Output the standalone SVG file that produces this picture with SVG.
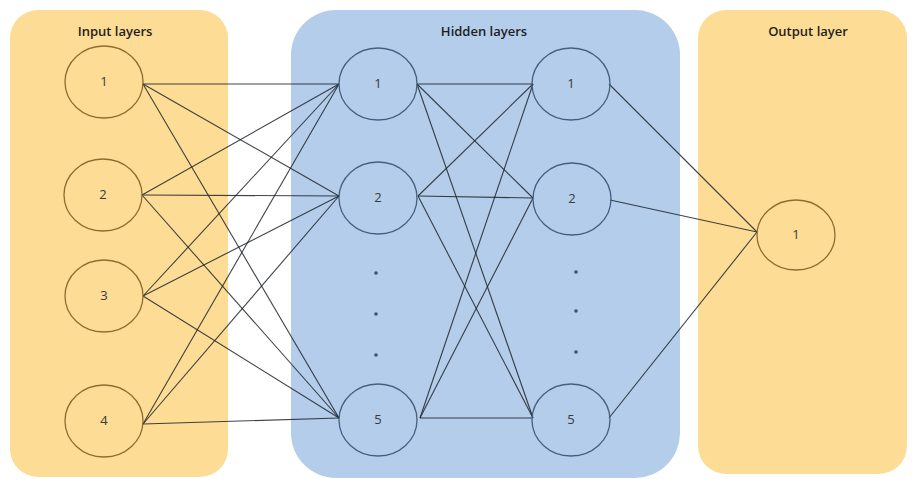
<svg xmlns="http://www.w3.org/2000/svg" width="912" height="479" viewBox="0 0 912 479">
<style>
.panelO{fill:#fddc95}
.panelB{fill:#b3cdea}
.title{font-family:"Open Sans","Liberation Sans",sans-serif;font-size:13px;font-weight:600;fill:#1e1e1e;text-anchor:middle}
.num{font-family:"Open Sans","Liberation Sans",sans-serif;font-size:13px;fill:#3a3a3a;text-anchor:middle}
.nO{fill:none;stroke:#8c6d2e;stroke-width:1.3}
.nB{fill:none;stroke:#44607f;stroke-width:1.3}
.dot{fill:#3c5470}
.conn line{stroke:#1f242b;stroke-width:1.1;stroke-opacity:0.85}
</style>
<rect class="panelO" x="10" y="10" width="218" height="467" rx="28"/>
<rect class="panelB" x="291" y="10" width="389" height="468" rx="45"/>
<rect class="panelO" x="698" y="10" width="209" height="464" rx="28"/>
<text class="title" x="115" y="36">Input layers</text>
<text class="title" x="484" y="36">Hidden layers</text>
<text class="title" x="808" y="36">Output layer</text>
<g class="conn">
<line x1="143" y1="84" x2="339" y2="84" stroke-opacity="0.4"/>
<line x1="143" y1="84" x2="339" y2="196"/>
<line x1="143" y1="84" x2="339" y2="418"/>
<line x1="142" y1="195" x2="339" y2="84"/>
<line x1="142" y1="195" x2="339" y2="196"/>
<line x1="142" y1="195" x2="339" y2="418"/>
<line x1="143" y1="296" x2="339" y2="84"/>
<line x1="143" y1="296" x2="339" y2="196"/>
<line x1="143" y1="296" x2="339" y2="418"/>
<line x1="143" y1="424" x2="339" y2="84"/>
<line x1="143" y1="424" x2="339" y2="196"/>
<line x1="143" y1="424" x2="339" y2="418"/>
<line x1="417" y1="84" x2="533" y2="84" stroke-opacity="0.4"/>
<line x1="417" y1="84" x2="533" y2="198"/>
<line x1="417" y1="84" x2="533" y2="418"/>
<line x1="418" y1="196" x2="533" y2="84"/>
<line x1="418" y1="196" x2="533" y2="198"/>
<line x1="418" y1="196" x2="533" y2="418"/>
<line x1="420" y1="418" x2="533" y2="84"/>
<line x1="420" y1="418" x2="533" y2="198"/>
<line x1="420" y1="418" x2="533" y2="418"/>
<line x1="609" y1="84" x2="757" y2="232"/>
<line x1="610" y1="200" x2="757" y2="232"/>
<line x1="609" y1="418" x2="757" y2="232"/>
</g>
<g id="in1"><ellipse class="nO" cx="104" cy="82" rx="39" ry="36"/><text class="num" x="104" y="86">1</text></g>
<g id="in2"><ellipse class="nO" cx="103" cy="195" rx="39" ry="36"/><text class="num" x="103" y="199">2</text></g>
<g id="in3"><ellipse class="nO" cx="104" cy="296" rx="39" ry="36"/><text class="num" x="104" y="300">3</text></g>
<g id="in4"><ellipse class="nO" cx="104" cy="421" rx="39" ry="36"/><text class="num" x="104" y="425">4</text></g>
<g id="h1_1"><ellipse class="nB" cx="378" cy="84" rx="39" ry="36"/><text class="num" x="378" y="88">1</text></g>
<g id="h1_2"><ellipse class="nB" cx="378" cy="198" rx="39" ry="36"/><text class="num" x="378" y="202">2</text></g>
<g id="h1_dots"><circle class="dot" cx="376" cy="273" r="1.8"/><circle class="dot" cx="376" cy="314" r="1.8"/><circle class="dot" cx="376" cy="355" r="1.8"/></g>
<g id="h1_5"><ellipse class="nB" cx="378" cy="420" rx="39" ry="36"/><text class="num" x="378" y="424">5</text></g>
<g id="h2_1"><ellipse class="nB" cx="571" cy="84" rx="39" ry="36"/><text class="num" x="571" y="88">1</text></g>
<g id="h2_2"><ellipse class="nB" cx="572" cy="199" rx="39" ry="36"/><text class="num" x="572" y="203">2</text></g>
<g id="h2_dots"><circle class="dot" cx="576" cy="272" r="1.8"/><circle class="dot" cx="576" cy="311" r="1.8"/><circle class="dot" cx="576" cy="352" r="1.8"/></g>
<g id="h2_5"><ellipse class="nB" cx="571" cy="420" rx="39" ry="36"/><text class="num" x="571" y="424">5</text></g>
<g id="out1"><ellipse class="nO" cx="796" cy="235" rx="39" ry="35"/><text class="num" x="796" y="239">1</text></g>
</svg>
